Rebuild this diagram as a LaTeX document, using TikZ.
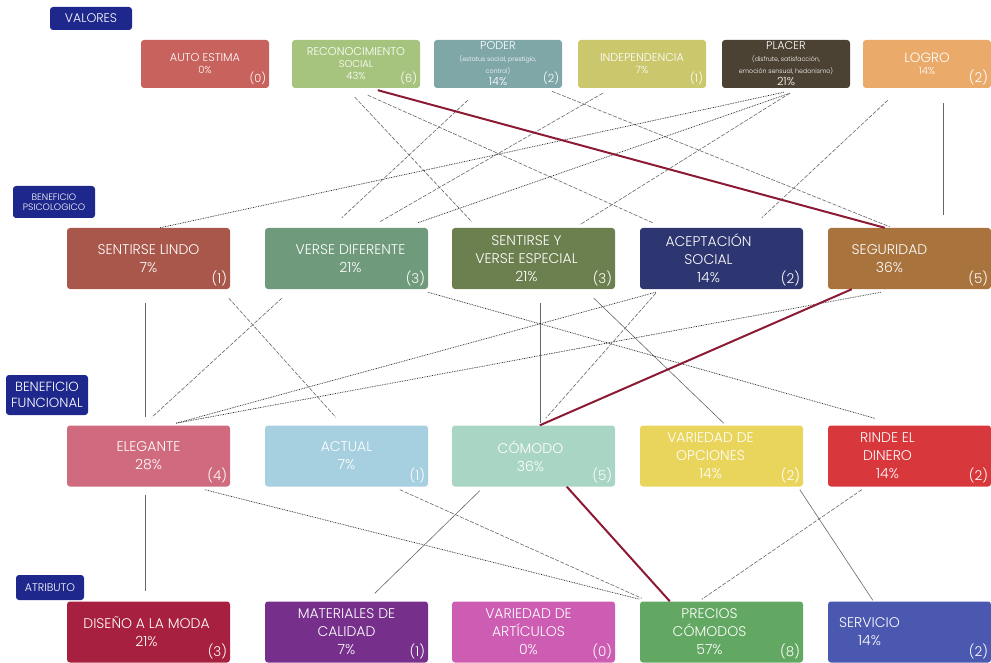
\documentclass[tikz,border=0pt]{standalone}
\usepackage{fontspec}
\setmainfont{Poppins}[UprightFont=* Light]
\usetikzlibrary{calc}
\definecolor{tagblue}{RGB}{30,40,140}
\definecolor{redline}{RGB}{140,26,52}
\definecolor{cauto}{RGB}{200,98,92}
\definecolor{crecon}{RGB}{166,196,126}
\definecolor{cpoder}{RGB}{127,167,168}
\definecolor{cindep}{RGB}{203,199,108}
\definecolor{cplacer}{RGB}{75,66,51}
\definecolor{clogro}{RGB}{233,170,106}
\definecolor{clindo}{RGB}{169,87,75}
\definecolor{cdif}{RGB}{111,154,124}
\definecolor{cesp}{RGB}{108,127,79}
\definecolor{cacep}{RGB}{45,54,112}
\definecolor{cseg}{RGB}{168,115,61}
\definecolor{celeg}{RGB}{208,107,127}
\definecolor{cactual}{RGB}{166,207,224}
\definecolor{ccomodo}{RGB}{169,213,197}
\definecolor{cvarop}{RGB}{233,213,92}
\definecolor{crinde}{RGB}{216,56,60}
\definecolor{cdiseno}{RGB}{168,32,63}
\definecolor{cmater}{RGB}{118,48,140}
\definecolor{cvarart}{RGB}{204,93,178}
\definecolor{cprecios}{RGB}{98,168,98}
\definecolor{cservicio}{RGB}{74,88,176}
\newcommand\fval{\fontsize{11.3}{12.8}\selectfont}
\newcommand\fbig{\fontsize{14}{18}\selectfont}
\newcommand\ftiny{\fontsize{6.3}{7.5}\selectfont}
\newcommand\fcnt{\fontsize{13.5}{15}\selectfont}
\tikzset{
  vbox/.style={rounded corners=3pt,minimum width=128pt,minimum height=48pt,inner sep=0pt},
  pbox/.style={rounded corners=3pt,minimum width=163pt,minimum height=61pt,inner sep=0pt},
  btext/.style={text=white,align=center,inner sep=0pt},
  bcount/.style={text=white,anchor=south east,inner sep=3pt},
  vtag/.style={fill=tagblue,text=white,rounded corners=3pt,align=center,inner sep=0pt},
  vsolid/.style={gray!80!black,line width=0.6pt},
  vdash/.style={vsolid,dash pattern=on 4pt off 1.5pt},
  vdot/.style={black!85,line width=0.7pt,dash pattern=on 0.8pt off 0.9pt},
  vred/.style={redline,line width=2pt},
}
\begin{document}
\begin{tikzpicture}[x=1pt,y=-1pt]
  \useasboundingbox (0,0) rectangle (991,663);
  \node[vtag,minimum width=82pt,minimum height=23pt,font=\fontsize{12.5}{14}\selectfont] (valores) at (91,18.5) {VALORES};
  \node[vtag,minimum width=82pt,minimum height=32pt,font=\fontsize{9.3}{10.5}\selectfont] (psico) at (54,202) {BENEFICIO\\PSICOLOGICO};
  \node[vtag,minimum width=82pt,minimum height=40pt,font=\fontsize{13.3}{15.5}\selectfont] (funcional) at (47,395) {BENEFICIO\\FUNCIONAL};
  \node[vtag,minimum width=68pt,minimum height=25pt,font=\fontsize{11}{12}\selectfont] (atributo) at (50,587.5) {ATRIBUTO};
  \foreach \n/\x/\c/\t/\k in {
      auto/205/cauto/{\fval AUTO ESTIMA\\0\%}/{\fval(0)},
      recon/356/crecon/{\fval RECONOCIMIENTO\\SOCIAL\\43\%}/{\fval(6)},
      poder/498/cpoder/{\fval PODER\\\ftiny (estatus social, prestigio,\\\ftiny control)\\\fval 14\%}/{\fval(2)},
      indep/642/cindep/{\fval INDEPENDENCIA\\7\%}/{\fval(1)},
      placer/786/cplacer/{\fval PLACER\\\ftiny (disfrute, satisfacción,\\\ftiny emoción sensual, hedonismo)\\\fval 21\%}/{},
      logro/927/clogro/{\fcnt LOGRO\\14\%}/{\fcnt(2)}} {
    \node[vbox,fill=\c] (\n) at (\x,64) {};
    \node[btext] (\n-t) at (\n) {\t};
    \node[bcount] (\n-k) at (\n.south east) {\k};
  }
  \foreach \n/\x/\y/\c/\d/\t/\k in {
      lindo/148.5/258.5/clindo/0/{SENTIRSE LINDO\\7\%}/(1),
      dif/346.5/258.5/cdif/4/{VERSE DIFERENTE\\21\%}/(3),
      esp/533.5/258.5/cesp/-7/{SENTIRSE Y\\VERSE ESPECIAL\\21\%}/(3),
      acep/721.5/258.5/cacep/-13/{ACEPTACIÓN\\SOCIAL\\14\%}/(2),
      seg/909.5/258.5/cseg/-20/{SEGURIDAD\\36\%}/(5),
      eleg/148.5/456/celeg/0/{ELEGANTE\\28\%}/(4),
      actual/346.5/456/cactual/0/{ACTUAL\\7\%}/(1),
      comodo/533.5/456/ccomodo/-3/{CÓMODO\\36\%}/(5),
      varop/721.5/456/cvarop/-11/{VARIEDAD DE\\OPCIONES\\14\%}/(2),
      rinde/909.5/456/crinde/-22/{RINDE EL\\DINERO\\14\%}/(2),
      diseno/148.5/632/cdiseno/-2/{DISEÑO A LA MODA\\21\%}/(3),
      mater/346.5/632/cmater/0/{MATERIALES DE\\CALIDAD\\7\%}/(1),
      varart/533.5/632/cvarart/-5/{VARIEDAD DE\\ARTÍCULOS\\0\%}/(0),
      precios/721.5/632/cprecios/-12/{PRECIOS\\CÓMODOS\\57\%}/(8),
      servicio/909.5/632/cservicio/-40/{SERVICIO\\14\%}/(2)} {
    \node[pbox,fill=\c] (\n) at (\x,\y) {};
    \node[btext,font=\fbig] (\n-t) at ($(\n)+(\d,0)$) {\t};
    \node[bcount,font=\fcnt] (\n-k) at (\n.south east) {\k};
  }
  \foreach \a/\ax/\ay/\b/\bx/\by/\s in {
      recon/63/9/esp/20/-6/vdash, recon/76/7/acep/13/-5/vdash,
      poder/34/12/dif/77/-10/vdash, poder/118/3/seg/62/-1/vdash,
      indep/25/5/dif/115/-6/vdash, placer/62/4/lindo/93/0/vdot,
      placer/68/5/dif/153/-5/vdot, placer/68/5/esp/128/-3/vdash,
      logro/25/12/acep/122/-10/vdash, logro/80/15/seg/115/-13/vsolid,
      lindo/78/14/eleg/78/-8/vsolid, lindo/162/9/actual/71/-8/vdash,
      dif/17/9/eleg/85/-8/vdash, dif/163/3/rinde/47/-7/vdot,
      esp/88/14/comodo/88/-2/vsolid, esp/142/9/varop/84/-2/vsolid,
      acep/16/3/eleg/109/-2/vdot, acep/16/4/comodo/94/-7/vdash,
      seg/53/3/eleg/109/-2/vdot,
      eleg/78/8/diseno/78/-10/vsolid, eleg/138/3/precios/0/-2/vdot,
      actual/135/3/precios/2/-3/vdash, comodo/28/4/mater/110/-8/vsolid,
      rinde/34/3/precios/62/-2/vdash, varop/160/3/servicio/45/-1/vsolid,
      recon/86/2/seg/57/0/vred, seg/24/0/comodo/88/0/vred,
      comodo/115/0/precios/30/0/vred}
    \draw[\s] ($(\a.south west)+(\ax,\ay)$) -- ($(\b.north west)+(\bx,\by)$);
\end{tikzpicture}
\end{document}
